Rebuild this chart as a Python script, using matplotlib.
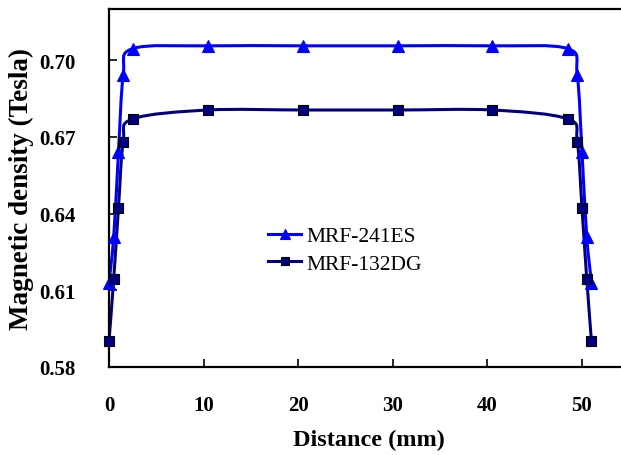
import matplotlib.pyplot as plt
from matplotlib.path import Path
from matplotlib.patches import PathPatch
from matplotlib.lines import Line2D

plt.rcParams['font.family'] = ['Liberation Serif', 'DejaVu Serif']

# distance along the gap (mm)
dist = [0, 0.5, 1, 1.5, 2.5, 10.5, 20.5, 30.5, 40.5, 48.5, 49.5, 50, 50.5, 51]

# magnetic flux density (Tesla)
mrf241 = [0.613, 0.631, 0.664, 0.694, 0.7045, 0.7056, 0.7056, 0.7056, 0.7056,
          0.7045, 0.694, 0.664, 0.631, 0.613]
mrf132 = [0.590, 0.6146, 0.642, 0.668, 0.677, 0.6805, 0.6805, 0.6805, 0.6805,
          0.677, 0.668, 0.642, 0.6146, 0.590]

labels = ['MRF-241ES', 'MRF-132DG']
colors = ['#0000FF', '#000080']


# excel style smoothed line: catmull-rom turned into cubic bezier segments
def smooth_path(xs, ys):
    pts = list(zip(xs, ys))
    n = len(pts)
    verts = [pts[0]]
    codes = [Path.MOVETO]
    for i in range(n - 1):
        p0 = pts[i - 1] if i > 0 else pts[i]
        p1 = pts[i]
        p2 = pts[i + 1]
        p3 = pts[i + 2] if i + 2 < n else pts[i + 1]
        c1 = (p1[0] + (p2[0] - p0[0]) / 6, p1[1] + (p2[1] - p0[1]) / 6)
        c2 = (p2[0] - (p3[0] - p1[0]) / 6, p2[1] - (p3[1] - p1[1]) / 6)
        verts += [c1, c2, p2]
        codes += [Path.CURVE4] * 3
    return Path(verts, codes)


fig = plt.figure(figsize=(6.21, 4.56), dpi=100)
ax = fig.add_axes([109 / 621, 88 / 456, 55 * 9.46 / 621, 358 / 456])
ax.set_xlim(0, 55)
ax.set_ylim(0.58, 0.72)

series = [(mrf241, '^', 8.5, colors[0], colors[0]),
          (mrf132, 's', 7, colors[1], 'black')]
handles = []
for (vals, mk, ms, col, edge), lab in zip(series, labels):
    ax.add_patch(PathPatch(smooth_path(dist, vals), fill=False,
                           edgecolor=col, lw=2.2, zorder=2))
    ax.plot(dist, vals, ls='none', marker=mk, ms=ms, color=col,
            mec=edge, mew=0.8, zorder=3, clip_on=False)
    handles.append(Line2D([], [], color=col, lw=2.2, marker=mk, ms=ms - 1,
                          mec=edge, mew=0.8, label=lab))

ax.set_xticks([0, 10, 20, 30, 40, 50])
ax.set_yticks([0.58, 0.61, 0.64, 0.67, 0.70])
ax.set_yticklabels(['0.58', '0.61', '0.64', '0.67', '0.70'])
ax.tick_params(direction='in', length=6, width=1.2, labelsize=15, pad=20)
ax.tick_params(axis='y', pad=24)
for t in ax.get_xticklabels() + ax.get_yticklabels():
    t.set_fontweight('bold')
for s in ax.spines.values():
    s.set_linewidth(1.6)

ax.set_xlabel('Distance (mm)', fontsize=17.5, fontweight='bold', labelpad=10)
ax.set_ylabel('Magnetic density (Tesla)', fontsize=19.5, fontweight='bold',
              labelpad=4)

fig.legend(handles=handles, loc='upper left',
           bbox_to_anchor=(268 / 621, 1 - 227 / 456), frameon=False,
           fontsize=15.5, handlelength=1.55, handletextpad=0.25,
           borderpad=0, borderaxespad=0, labelspacing=0.35)

plt.savefig('out.png', dpi=100)
